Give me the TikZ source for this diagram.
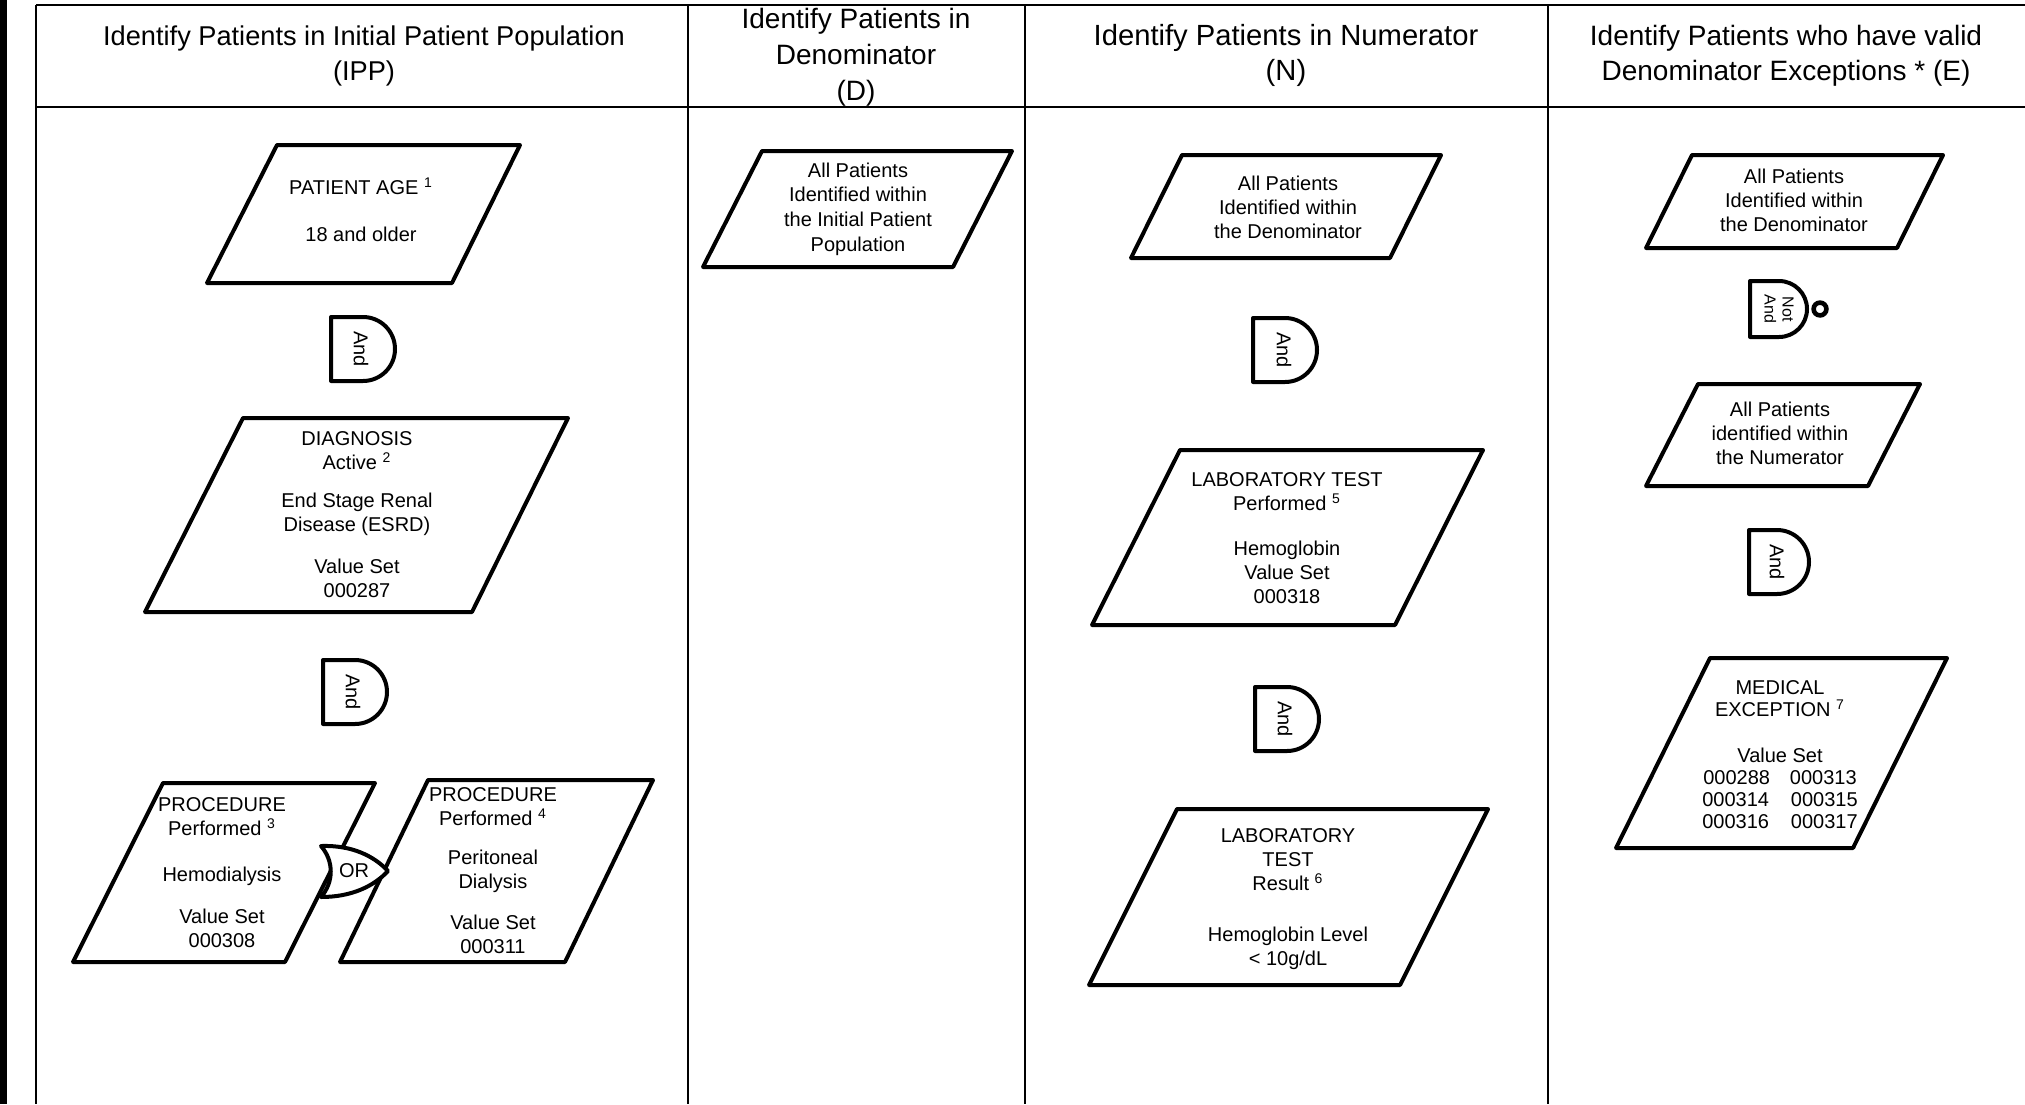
\documentclass[tikz,border=0pt]{standalone}
\usepackage{fontspec}
\setmainfont{Liberation Sans}
\usepackage{tikz}

\begin{document}
\begin{tikzpicture}[x=0.5pt,y=-0.5pt,
  grid/.style={line width=0.9pt},
  pgram/.style={line width=2pt,line join=round},
  gate/.style={line width=2pt,line join=round,fill=white},
  head/.style={align=center,inner sep=0pt,font=\fontsize{14}{17.5}\selectfont},
  txt/.style={align=center,inner sep=0pt,font=\fontsize{10}{12}\selectfont},
  gatetxt/.style={rotate=-90,align=center,inner sep=0pt,font=\fontsize{10}{10}\selectfont}]
\useasboundingbox (0,0) rectangle (2025,1104);

% Draw table frame
\fill (0,0) rectangle (7,1104);
\draw[line width=1.2pt] (36,5) -- (2025,5);
\draw[line width=1.2pt] (36,107) -- (2025,107);
\foreach \x in {36,688,1025,1548}
  \draw[grid] (\x,5) -- (\x,1104);

% Column headers
\node[head,font=\fontsize{13.6}{17.5}\selectfont] (hipp) at (364,56) {Identify Patients in Initial Patient Population\\(IPP)};
\node[head,font=\fontsize{14}{18}\selectfont] (hden) at (856,57) {Identify Patients in\\Denominator\\(D)};
\node[head,font=\fontsize{14.6}{17.5}\selectfont] (hnum) at (1286,55) {Identify Patients in Numerator\\(N)};
\node[head] (hexc) at (1786,56) {Identify Patients who have valid\\Denominator Exceptions * (E)};

% Initial patient population
\draw[pgram] (277,145) -- (520,145) -- (452,283) -- (207,283) -- cycle;
\node[txt] (age) at (361,210) {PATIENT AGE~\textsuperscript{1}\\[11.5pt]18 and older};

\draw[gate] (331,317) -- (363,317) arc[start angle=90,end angle=-90,radius=16pt] -- (331,381) -- cycle;
\node[gatetxt] (andA) at (361,349) {And};

\draw[pgram] (243,418) -- (568,418) -- (472,612) -- (145,612) -- cycle;
\node[txt] (diag) at (357,515) {DIAGNOSIS\\Active~\textsuperscript{2}\\[7pt]End Stage Renal\\Disease (ESRD)\\[9pt]Value Set\\000287};

\draw[gate] (323,660) -- (355,660) arc[start angle=90,end angle=-90,radius=16pt] -- (323,724) -- cycle;
\node[gatetxt] (andB) at (353,692) {And};

\draw[pgram] (163,783) -- (375,783) -- (285,962) -- (73,962) -- cycle;
\node[txt] (hemo) at (222,873) {PROCEDURE\\Performed~\textsuperscript{3}\\[11pt]Hemodialysis\\[9pt]Value Set\\000308};

\draw[pgram] (428,780) -- (653,780) -- (565,962) -- (340,962) -- cycle;
\node[txt] (perit) at (493,871) {PROCEDURE\\Performed~\textsuperscript{4}\\[7.5pt]Peritoneal\\Dialysis\\[8.5pt]Value Set\\000311};

\draw[gate] (321,846) .. controls (352,845) and (374,856) .. (388,871)
  .. controls (374,886) and (352,897) .. (321,897)
  .. controls (334,882) and (334,861) .. (321,846) -- cycle;
\node[txt] (orA) at (354,871) {OR};

% Denominator
\draw[pgram] (762,151) -- (1012,151) -- (953,267) -- (703,267) -- cycle;
\node[txt,font=\fontsize{10}{12.3}\selectfont] (den) at (858,209) {All Patients\\Identified within\\the Initial Patient\\Population};

% Numerator
\draw[pgram] (1182,155) -- (1441,155) -- (1390,258) -- (1131,258) -- cycle;
\node[txt] (numD) at (1288,207) {All Patients\\Identified within\\the Denominator};

\draw[gate] (1253,318) -- (1285,318) arc[start angle=90,end angle=-90,radius=16pt] -- (1253,382) -- cycle;
\node[gatetxt] (andC) at (1284,350) {And};

\draw[pgram] (1180,450) -- (1483,450) -- (1395,625) -- (1092,625) -- cycle;
\node[txt] (labP) at (1287,538) {LABORATORY TEST\\Performed~\textsuperscript{5}\\[10.5pt]Hemoglobin\\Value Set\\000318};

\draw[gate] (1255,687) -- (1287,687) arc[start angle=90,end angle=-90,radius=16pt] -- (1255,751) -- cycle;
\node[gatetxt] (andD) at (1285,719) {And};

\draw[pgram] (1177,809) -- (1488,809) -- (1400,985) -- (1089,985) -- cycle;
\node[txt] (labR) at (1288,899) {LABORATORY\\TEST\\Result~\textsuperscript{6}\\[13.5pt]Hemoglobin Level\\< 10g/dL};

% Denominator exceptions
\draw[pgram] (1692,155) -- (1943,155) -- (1897,248) -- (1646,248) -- cycle;
\node[txt] (excD) at (1794,200) {All Patients\\Identified within\\the Denominator};

\draw[gate] (1750,281) -- (1779,281) arc[start angle=90,end angle=-90,radius=14pt] -- (1750,337) -- cycle;
\draw[line width=2.3pt] (1820,309) circle[radius=3.2pt];
\node[gatetxt,font=\fontsize{8}{9}\selectfont] (notand) at (1779,309) {Not\\And};

\draw[pgram] (1698,384) -- (1920,384) -- (1868,486) -- (1646,486) -- cycle;
\node[txt] (excN) at (1780,433) {All Patients\\identified within\\the Numerator};

\draw[gate] (1749,530) -- (1777,530) arc[start angle=90,end angle=-90,radius=16pt] -- (1749,594) -- cycle;
\node[gatetxt] (andE) at (1777,562) {And};

\draw[pgram] (1710,658) -- (1947,658) -- (1853,848) -- (1616,848) -- cycle;
\node[txt,font=\fontsize{10}{11}\selectfont] (medx) at (1780,755) {MEDICAL\\EXCEPTION~\textsuperscript{7}\\[12pt]Value Set\\000288\hspace{10pt}000313\\000314\hspace{11pt}000315\\000316\hspace{11pt}000317};
\end{tikzpicture}
\end{document}
